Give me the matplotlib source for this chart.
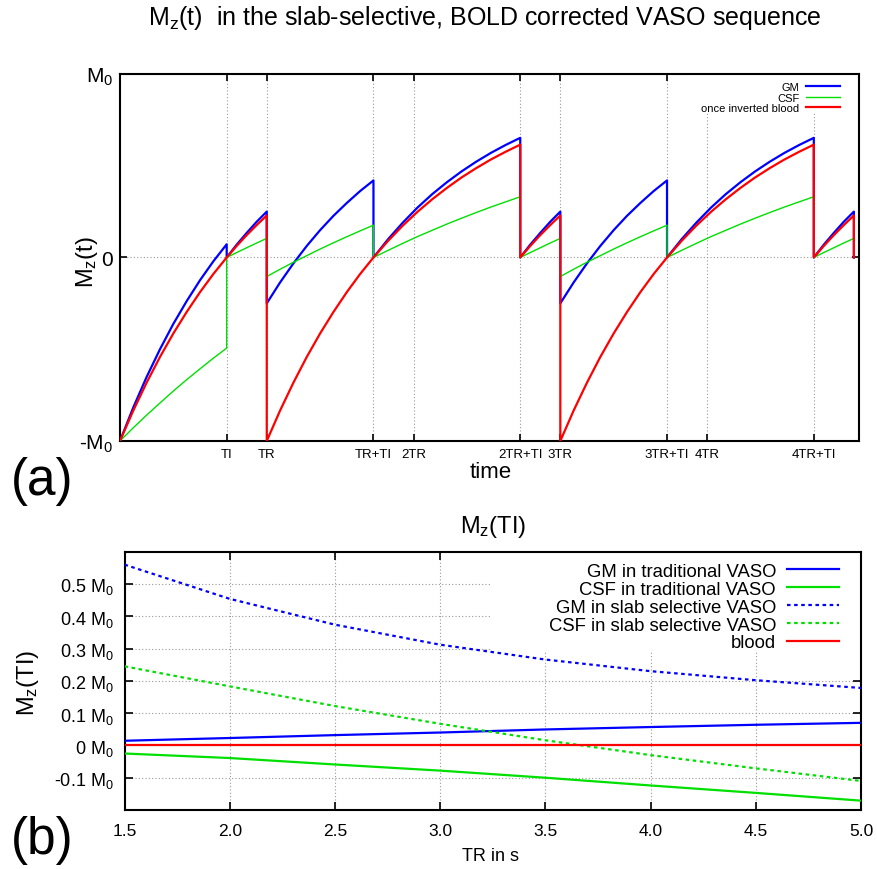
import numpy as np
import matplotlib
matplotlib.use("Agg")
import matplotlib.pyplot as plt
from matplotlib.patches import Rectangle

plt.rcParams['font.family'] = ['Liberation Sans', 'DejaVu Sans']

# ---------------- panel (a): Mz(t) ----------------
TR = 1.0
TI = 0.727
# event times (units of TR)
event_times = [0, TI, TR, TR + TI, 2 * TR + TI, 3 * TR, 3 * TR + TI, 4 * TR + TI, 5 * TR]
segment_kind = ['A', 'B', 'C', 'D', 'B', 'C', 'D', 'B']

tick_pos = [TI, TR, TR + TI, 2 * TR, 2 * TR + TI, 3 * TR, 3 * TR + TI, 4 * TR, 4 * TR + TI]
tick_labels = ['TI', 'TR', 'TR+TI', '2TR', '2TR+TI', '3TR', '3TR+TI', '4TR', '4TR+TI']

# values read along each recovery segment (equally spaced in time within the segment)
gm_A = [-1.0, -0.817, -0.651, -0.500, -0.362, -0.238, -0.124, -0.021, 0.072]
gm_B = [0.0, 0.070, 0.134, 0.195, 0.250]
gm_C = [-0.250, -0.136, -0.032, 0.063, 0.149, 0.227, 0.297, 0.362, 0.420]
gm_D = [0.0, 0.100, 0.190, 0.272, 0.345, 0.410, 0.469, 0.522, 0.570, 0.613, 0.652]

csf_A = [-1.0, -0.928, -0.859, -0.793, -0.728, -0.666, -0.607, -0.549, -0.494]
csf_B = [0.0, 0.027, 0.053, 0.079, 0.104]
csf_C = [-0.104, -0.064, -0.026, 0.010, 0.046, 0.080, 0.113, 0.145, 0.176]
csf_D = [0.0, 0.039, 0.077, 0.114, 0.148, 0.182, 0.214, 0.245, 0.275, 0.303, 0.331]

blood_A = [-1.0, -0.834, -0.682, -0.542, -0.414, -0.297, -0.189, -0.090, 0.0]
blood_B = [0.0, 0.063, 0.122, 0.177, 0.229]
blood_C = [-1.0, -0.834, -0.682, -0.542, -0.414, -0.297, -0.189, -0.090, 0.0]
blood_D = [0.0, 0.091, 0.174, 0.249, 0.317, 0.379, 0.436, 0.487, 0.534, 0.576, 0.615]

end_value = 0.0

# ---------------- panel (b): Mz(TI) vs TR ----------------
tr_s = [1.5, 2.0, 2.5, 3.0, 3.5, 4.0, 4.5, 5.0]
gm_trad = [0.0145, 0.023, 0.032, 0.040, 0.0495, 0.057, 0.064, 0.070]
csf_trad = [-0.025, -0.039, -0.059, -0.078, -0.100, -0.124, -0.147, -0.171]
gm_slab = [0.560, 0.454, 0.374, 0.312, 0.266, 0.230, 0.202, 0.178]
csf_slab = [0.245, 0.183, 0.122, 0.067, 0.016, -0.030, -0.071, -0.110]
blood_b = [0.0, 0.0, 0.0, 0.0, 0.0, 0.0, 0.0, 0.0]

BLUE = '#0000ff'
GREEN = '#00e000'
RED = '#ff0000'


def build(segs):
    ts, vs = [], []
    for i, kind in enumerate(segment_kind):
        vals = segs[kind]
        ts.extend(np.linspace(event_times[i], event_times[i + 1], len(vals)))
        vs.extend(vals)
    ts.append(event_times[-1])
    vs.append(end_value)
    return np.array(ts), np.array(vs)


t_gm, v_gm = build({'A': gm_A, 'B': gm_B, 'C': gm_C, 'D': gm_D})
t_csf, v_csf = build({'A': csf_A, 'B': csf_B, 'C': csf_C, 'D': csf_D})
t_bl, v_bl = build({'A': blood_A, 'B': blood_B, 'C': blood_C, 'D': blood_D})

fig = plt.figure(figsize=(8.77, 8.70), dpi=100)

# ---------- top axes ----------
ax1 = fig.add_axes([0.1368, 0.4920, 0.8427, 0.4218])
ax1.set_axisbelow(True)
ax1.plot(t_gm, v_gm, color=BLUE, lw=1.6, label='GM', zorder=3)
ax1.plot(t_csf, v_csf, color=GREEN, lw=1.0, label='CSF', zorder=3)
ax1.plot(t_bl, v_bl, color=RED, lw=1.6, label='once inverted blood', zorder=3)
ax1.set_xlim(0, 5.035)
ax1.set_ylim(-1, 1)
ax1.set_xticks(tick_pos)
ax1.set_xticklabels(tick_labels, fontsize=9.5)
ax1.set_yticks([-1, 0, 1])
ax1.set_yticklabels([r'-$\mathregular{M_0}$', '0', r'$\mathregular{M_0}$'], fontsize=15)
ax1.tick_params(axis='both', direction='in', top=True, right=True, length=5, width=1.2)
ax1.tick_params(axis='x', pad=5)
ax1.tick_params(axis='y', pad=5)
ax1.grid(True, linestyle=(0, (1, 2)), color='#999999', lw=0.8)
for s in ax1.spines.values():
    s.set_linewidth(1.5)
ax1.add_patch(Rectangle((0.771, 0.896), 0.229, 0.104, transform=ax1.transAxes,
                        facecolor='white', edgecolor='none', zorder=1))
leg1 = ax1.legend(loc='upper right', bbox_to_anchor=(0.985, 1.0), fontsize=8,
                  markerfirst=False, frameon=False, handlelength=3.0,
                  handletextpad=0.6, labelspacing=0.03, borderpad=0.25)

fig.text(0.099, 0.699, r'$\mathregular{M_z(t)}$', rotation=90, ha='center', va='center', fontsize=17)
fig.text(0.559, 0.457, 'time', ha='center', va='center', fontsize=16)
fig.text(0.553, 0.979, r'$\mathregular{M_z(t)}$  in the slab-selective, BOLD corrected VASO sequence',
         ha='center', va='center', fontsize=18)
fig.text(0.048, 0.446, '(a)', ha='center', va='center', fontsize=37)

# ---------- bottom axes ----------
ax2 = fig.add_axes([0.1420, 0.0678, 0.8398, 0.2969])
ax2.set_axisbelow(True)
ax2.plot(tr_s, gm_trad, color=BLUE, lw=1.6, label='GM in traditional VASO', zorder=3)
ax2.plot(tr_s, csf_trad, color=GREEN, lw=1.6, label='CSF in traditional VASO', zorder=3)
ax2.plot(tr_s, gm_slab, color=BLUE, lw=1.6, linestyle=(0, (1.6, 1.6)),
         label='GM in slab selective VASO', zorder=3)
ax2.plot(tr_s, csf_slab, color=GREEN, lw=1.6, linestyle=(0, (1.6, 1.6)),
         label='CSF in slab selective VASO', zorder=3)
ax2.plot(tr_s, blood_b, color=RED, lw=1.6, label='blood', zorder=3)
ax2.set_xlim(1.5, 5.0)
ax2.set_ylim(-0.2, 0.6)
ax2.set_xticks(tr_s)
ax2.set_xticklabels([f'{v:.1f}' for v in tr_s], fontsize=12.5)
yt = [-0.1, 0.0, 0.1, 0.2, 0.3, 0.4, 0.5]
ax2.set_yticks(yt)
ax2.set_yticklabels([('0' if v == 0 else f'{v:.1f}') + r' $\mathregular{M_0}$' for v in yt], fontsize=13)
ax2.tick_params(axis='both', direction='in', top=True, right=True, length=6, width=1.2)
ax2.tick_params(axis='x', pad=9)
ax2.tick_params(axis='y', pad=8)
ax2.grid(True, linestyle=(0, (1, 2)), color='#999999', lw=0.8)
for s in ax2.spines.values():
    s.set_linewidth(1.5)
ax2.add_patch(Rectangle((0.496, 0.612), 0.504, 0.388, transform=ax2.transAxes,
                        facecolor='white', edgecolor='none', zorder=1))
leg2 = ax2.legend(loc='upper right', bbox_to_anchor=(0.985, 1.0), fontsize=13.3,
                  markerfirst=False, frameon=False, handlelength=2.8,
                  handletextpad=0.6, labelspacing=0.05, borderpad=0.1)

fig.text(0.562, 0.394, r'$\mathregular{M_z(TI)}$', ha='center', va='center', fontsize=17)
fig.text(0.032, 0.215, r'$\mathregular{M_z(TI)}$', rotation=90, ha='center', va='center', fontsize=17)
fig.text(0.559, 0.015, 'TR in s', ha='center', va='center', fontsize=13)
fig.text(0.048, 0.034, '(b)', ha='center', va='center', fontsize=37)

fig.savefig('out.png', dpi=100)
